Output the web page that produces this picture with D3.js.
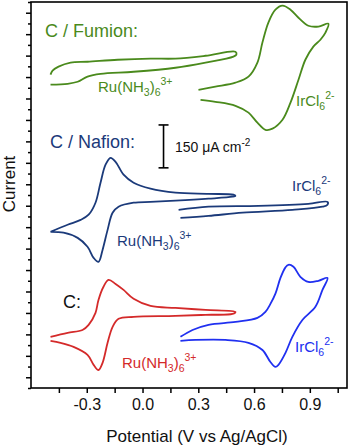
<!DOCTYPE html>
<html>
<head>
<meta charset="utf-8">
<script src="https://cdn.jsdelivr.net/npm/d3@7"></script>
<style>
body { margin: 0; background: #fff; }
svg { display: block; font-family: "Liberation Sans", Arial, sans-serif; }
</style>
</head>
<body>
<svg width="350" height="448"></svg>
<script>
// potential in V vs Ag/AgCl, current in uA cm-2 (curves offset vertically)

var xTicks = [-0.3, 0.0, 0.3, 0.6, 0.9];
var xMinor = [-0.45, -0.15, 0.15, 0.45, 0.75, 1.05];
var scaleBar = 150;

var fumionRu = [[-0.495,1096],[-0.484,1110],[-0.452,1124],[-0.387,1138],[-0.296,1141],[-0.134,1148],[0.043,1152],[0.177,1152],[0.339,1162],[0.5,1176],[0.505,1166],
  [0.489,1159],[0.339,1138],[0.177,1120],[-0.048,1106],[-0.226,1099],[-0.296,1089],[-0.349,1071],[-0.403,1064],[-0.495,1061]];
var fumionIr = [[0.301,1043],[0.392,1054],[0.5,1068],[0.570,1089],[0.618,1138],[0.645,1208],[0.677,1278],[0.715,1323],[0.753,1337],[0.796,1323],[0.839,1295],[0.892,1267],[0.946,1264],[1.0,1274],
  [0.984,1243],[0.957,1218],[0.919,1194],[0.876,1148],[0.839,1078],[0.796,998],[0.753,938],[0.699,907],[0.661,903],[0.618,928],[0.570,963],[0.5,987],[0.392,1001],[0.312,1008]];
var nafionRu = [[-0.495,546],[-0.403,571],[-0.333,588],[-0.290,606],[-0.253,648],[-0.226,718],[-0.199,781],[-0.172,805],[-0.145,791],[-0.102,746],[-0.048,718],[0.043,697],[0.177,683],[0.355,679],[0.489,676],[0.5,672],
  [0.484,669],[0.355,662],[0.177,655],[0.043,651],[-0.048,648],[-0.129,634],[-0.161,613],[-0.188,553],[-0.215,483],[-0.237,441],[-0.263,455],[-0.296,494],[-0.349,525],[-0.425,543],[-0.495,546]];
var nafionIr = [[0.194,623],[0.355,634],[0.624,637],[0.892,644],[0.995,651],[0.995,641],[0.968,634],[0.806,623],[0.538,613],[0.355,602],[0.204,595]];
var bareRu = [[-0.495,179],[-0.403,193],[-0.323,203],[-0.290,221],[-0.253,263],[-0.237,308],[-0.210,354],[-0.183,378],[-0.145,364],[-0.102,343],[-0.048,312],[0.043,287],[0.177,280],[0.339,273],[0.5,266],
  [0.484,259],[0.339,256],[0.177,252],[-0.048,249],[-0.129,242],[-0.161,214],[-0.188,158],[-0.215,88],[-0.237,63],[-0.263,81],[-0.296,116],[-0.371,144],[-0.441,158],[-0.495,165]];
var bareIr = [[0.204,179],[0.269,203],[0.355,221],[0.5,231],[0.618,245],[0.661,266],[0.688,294],[0.715,330],[0.742,385],[0.769,422],[0.785,431],[0.812,424],[0.849,389],[0.892,371],[0.946,375],[0.995,385],
  [0.968,343],[0.930,284],[0.860,238],[0.806,179],[0.769,123],[0.731,81],[0.715,74],[0.688,91],[0.645,133],[0.570,158],[0.446,168],[0.285,168],[0.204,165]];

var GREEN = "#4a8a1c", NAVY = "#1b3a7a", RED = "#d42a2a", BLUE = "#2030f0";

var svg = d3.select("svg");
var MARGIN = {top: 2, right: 3, bottom: 60, left: 31};
var WIDTH = 350 - MARGIN.left - MARGIN.right;
var HEIGHT = 448 - MARGIN.top - MARGIN.bottom;

var g = svg.append("g")
    .attr("transform", "translate(" + MARGIN.left + "," + MARGIN.top + ")");

var x = d3.scaleLinear().domain([-0.6, 1.1]).range([0, WIDTH]);
var y = d3.scaleLinear().domain([0, 1350]).range([HEIGHT, 0]);

var line = d3.line()
    .curve(d3.curveCatmullRom.alpha(0.5))
    .x(d => x(d[0]))
    .y(d => y(d[1]));

// x axis, labelled + unlabelled ticks
g.append("g")
    .attr("transform", "translate(0," + HEIGHT + ")")
    .call(d3.axisBottom(x).tickValues(xTicks).tickSize(5).tickPadding(6)
        .tickFormat(d => d3.format(".1f")(d).replace("\u2212", "-")))
    .call(a => a.select(".domain").remove())
    .call(a => a.selectAll("text").attr("font-size", 16).attr("font-family", null).attr("fill", "#111"))
    .call(a => a.selectAll("line").attr("stroke-width", 1.5));
g.append("g")
    .attr("transform", "translate(0," + HEIGHT + ")")
    .call(d3.axisBottom(x).tickValues(xMinor).tickSize(5).tickFormat(""))
    .call(a => a.select(".domain").remove())
    .call(a => a.selectAll("line").attr("stroke-width", 1.5));

// y axis ticks only
var yTicks = d3.range(0, 1351, 37.5);
g.append("g")
    .call(d3.axisLeft(y).tickValues(yTicks).tickSize(5).tickFormat(""))
    .call(a => a.select(".domain").remove())
    .call(a => a.selectAll("line")
        .attr("x2", (d, i) => i % 2 ? -5 : -3)
        .attr("stroke-width", 1.5));

// frame
g.append("rect")
    .attr("width", WIDTH)
    .attr("height", HEIGHT)
    .attr("fill", "none")
    .attr("stroke", "#000")
    .attr("stroke-width", 1.6);

var curves = [
  {data: fumionRu, color: GREEN},
  {data: fumionIr, color: GREEN},
  {data: nafionRu, color: NAVY},
  {data: nafionIr, color: NAVY},
  {data: bareRu, color: RED},
  {data: bareIr, color: BLUE}
];

g.selectAll(".cv")
    .data(curves)
    .enter().append("path")
    .attr("class", "cv")
    .attr("d", d => line(d.data))
    .attr("fill", "none")
    .attr("stroke", d => d.color)
    .attr("stroke-width", 1.8)
    .attr("stroke-linejoin", "round");

// scale bar
var sbX = x(0.113), sbTop = y(920), sbBot = y(920 - scaleBar);
var sb = g.append("g").attr("stroke", "#000").attr("stroke-width", 1.6);
sb.append("line").attr("x1", sbX).attr("x2", sbX).attr("y1", sbTop).attr("y2", sbBot);
sb.append("line").attr("x1", sbX - 5).attr("x2", sbX + 5).attr("y1", sbTop).attr("y2", sbTop);
sb.append("line").attr("x1", sbX - 5).attr("x2", sbX + 5).attr("y1", sbBot).attr("y2", sbBot);

function ruLabel(px, py, color) {
  svg.append("text").attr("x", px).attr("y", py).attr("font-size", 15).attr("fill", color)
    .call(t => {
      t.append("tspan").text("Ru(NH");
      t.append("tspan").text("3").attr("font-size", 10.5).attr("dy", 4);
      t.append("tspan").text(")").attr("dy", -4);
      t.append("tspan").text("6").attr("font-size", 10.5).attr("dy", 4);
      t.append("tspan").text("3+").attr("font-size", 10.5).attr("dy", -11);
    });
}

function irLabel(px, py, color) {
  svg.append("text").attr("x", px).attr("y", py).attr("font-size", 15).attr("fill", color)
    .call(t => {
      t.append("tspan").text("IrCl");
      t.append("tspan").text("6").attr("font-size", 10.5).attr("dy", 4);
      t.append("tspan").text("2-").attr("font-size", 10.5).attr("dy", -11);
    });
}

svg.append("text").attr("x", 45).attr("y", 37).attr("font-size", 18).attr("fill", GREEN).text("C / Fumion:");
svg.append("text").attr("x", 50).attr("y", 148).attr("font-size", 18).attr("fill", NAVY).text("C / Nafion:");
svg.append("text").attr("x", 63).attr("y", 308).attr("font-size", 18).attr("fill", "#111").text("C:");

ruLabel(98, 92, GREEN);
irLabel(296, 106, GREEN);
ruLabel(117, 246, NAVY);
irLabel(292, 191, NAVY);
ruLabel(122, 368, RED);
irLabel(295, 352, BLUE);

svg.append("text").attr("x", 175).attr("y", 152).attr("font-size", 14).attr("fill", "#111")
  .call(t => {
    t.append("tspan").text("150 \u03bcA cm");
    t.append("tspan").text("-2").attr("font-size", 10).attr("dy", -6);
  });

// axis titles
svg.append("text")
    .attr("x", 197).attr("y", 442)
    .attr("text-anchor", "middle")
    .attr("font-size", 17)
    .attr("fill", "#111")
    .text("Potential (V vs Ag/AgCl)");

svg.append("text")
    .attr("transform", "translate(15,184) rotate(-90)")
    .attr("text-anchor", "middle")
    .attr("font-size", 17)
    .attr("fill", "#111")
    .text("Current");
</script>
</body>
</html>
